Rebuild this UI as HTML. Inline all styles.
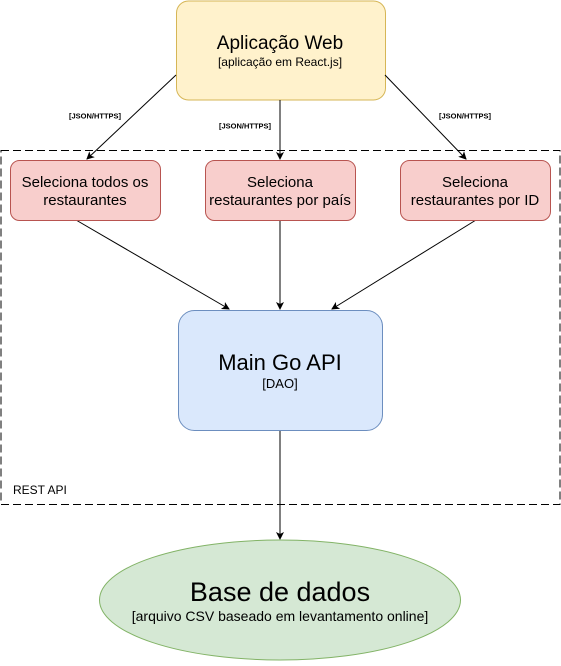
<!DOCTYPE html>
<html><head><meta charset="utf-8"><style>html,body{margin:0;padding:0;background:#fff}</style></head>
<body>
<svg width="561" height="661" viewBox="0 0 561 661" xmlns="http://www.w3.org/2000/svg" font-family="Liberation Sans, Arial, sans-serif">
<defs><marker id="a" markerWidth="8" markerHeight="8" refX="7" refY="4" orient="auto" markerUnits="userSpaceOnUse"><path d="M0,0 L8,4 L0,8 L2,4 z" fill="#000"/></marker></defs>
<rect x="1" y="150.5" width="559" height="354" fill="none" stroke="#000" stroke-dasharray="8,4"/>
<text x="13" y="494" font-size="12" fill="#000">REST API</text>
<rect x="176.5" y="1" width="209" height="99" rx="12" fill="#fff2cc" stroke="#d6b656"/>
<text x="280" y="49" font-size="19" text-anchor="middle">Aplicação Web</text>
<text x="280" y="66" font-size="12" text-anchor="middle">[aplicação em React.js]</text>
<g stroke="#000" fill="none">
<line x1="176" y1="75" x2="87" y2="159" marker-end="url(#a)"/>
<line x1="280" y1="100" x2="280" y2="159" marker-end="url(#a)"/>
<line x1="385" y1="75" x2="466" y2="159" marker-end="url(#a)"/>
<line x1="76" y1="220" x2="229" y2="309" marker-end="url(#a)"/>
<line x1="280" y1="220" x2="280" y2="309" marker-end="url(#a)"/>
<line x1="476" y1="220" x2="332" y2="309" marker-end="url(#a)"/>
<line x1="280" y1="430" x2="280" y2="539" marker-end="url(#a)"/>
</g>
<g font-size="7.5" font-weight="bold" text-anchor="middle">
<rect x="65" y="110" width="60" height="9" fill="#fff"/><text x="95" y="118.5">[JSON/HTTPS]</text>
<rect x="215" y="120" width="60" height="9" fill="#fff"/><text x="245" y="128.5">[JSON/HTTPS]</text>
<rect x="435" y="110" width="60" height="9" fill="#fff"/><text x="465" y="118.5">[JSON/HTTPS]</text>
</g>
<g fill="#f8cecc" stroke="#b85450">
<rect x="10.5" y="160.5" width="150" height="60" rx="9"/>
<rect x="205.5" y="160.5" width="150" height="60" rx="9"/>
<rect x="400.5" y="160.5" width="150" height="60" rx="9"/>
</g>
<g font-size="15" text-anchor="middle">
<text x="85" y="187">Seleciona todos os</text><text x="85" y="205">restaurantes</text>
<text x="280" y="187">Seleciona</text><text x="280" y="205">restaurantes por país</text>
<text x="475" y="187">Seleciona</text><text x="475" y="205">restaurantes por ID</text>
</g>
<rect x="178.5" y="310.5" width="204" height="120" rx="16" fill="#dae8fc" stroke="#6c8ebf"/>
<text x="280" y="370" font-size="22" text-anchor="middle">Main Go API</text>
<text x="280" y="388" font-size="13" text-anchor="middle">[DAO]</text>
<ellipse cx="280" cy="600" rx="180.5" ry="60" fill="#d5e8d4" stroke="#82b366"/>
<text x="280" y="601" font-size="27" text-anchor="middle">Base de dados</text>
<text x="280" y="621" font-size="14" text-anchor="middle">[arquivo CSV baseado em levantamento online]</text>
</svg>
</body></html>
